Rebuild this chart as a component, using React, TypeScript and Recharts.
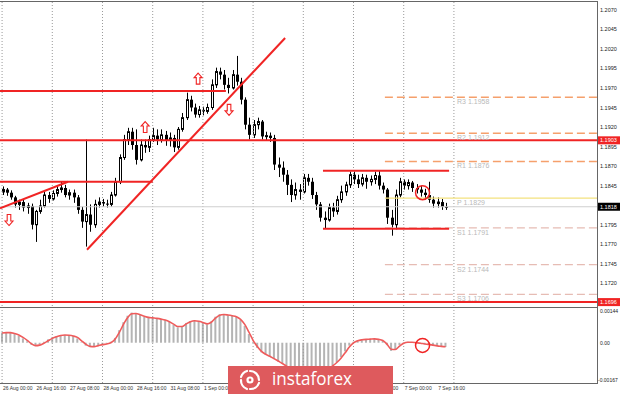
import React from "react";
import { Bar, ComposedChart, Line, ReferenceDot, ReferenceLine, XAxis, YAxis } from "recharts";

// EURUSD H1, shown as 2-hour candles; h = trading hours since 26 Aug 00:00
const opens = [
  1.1837, 1.184, 1.1836, 1.183, 1.1821, 1.1824, 1.1817, 1.1819, 1.1795, 1.1812,
  1.1819, 1.1833, 1.1828, 1.1835, 1.184, 1.1842, 1.1833, 1.1836, 1.183, 1.1814,
  1.1799, 1.1808, 1.1795, 1.1821, 1.1824, 1.1822, 1.1821, 1.1833, 1.185, 1.1881,
  1.1904, 1.1914, 1.1897, 1.1878, 1.1897, 1.1894, 1.1904, 1.1909, 1.1904, 1.191,
  1.1903, 1.1906, 1.1894, 1.1917, 1.1932, 1.1955, 1.1945, 1.1936, 1.1942, 1.194,
  1.1945, 1.1974, 1.1991, 1.1987, 1.1974, 1.197, 1.1987, 1.1978, 1.1955, 1.1923,
  1.191, 1.1923, 1.1927, 1.1908, 1.1909, 1.1906, 1.1872, 1.1868, 1.1859, 1.1846,
  1.1833, 1.184, 1.1837, 1.1855, 1.185, 1.1833, 1.1821, 1.1804, 1.1801, 1.1817,
  1.1812, 1.1827, 1.1837, 1.1846, 1.1859, 1.1853, 1.1847, 1.1855, 1.185, 1.1853,
  1.1858, 1.1845, 1.184, 1.1804, 1.1795, 1.1833, 1.185, 1.1845, 1.1849, 1.1842,
  1.184, 1.1836, 1.1833, 1.1827, 1.1822, 1.1824, 1.1818,
];
const highs = [
  1.1844, 1.1842, 1.1839, 1.1832, 1.1827, 1.1827, 1.1823, 1.1822, 1.1814, 1.1827,
  1.1837, 1.1837, 1.1839, 1.1845, 1.185, 1.1846, 1.184, 1.184, 1.1833, 1.1818,
  1.1904, 1.1821, 1.1827, 1.183, 1.1828, 1.1827, 1.1837, 1.1855, 1.1885, 1.191,
  1.1919, 1.1919, 1.1917, 1.1904, 1.1904, 1.1909, 1.1919, 1.1917, 1.1917, 1.1915,
  1.1913, 1.191, 1.192, 1.1938, 1.1964, 1.196, 1.195, 1.1947, 1.1946, 1.195,
  1.1981, 1.1996, 1.1996, 1.1993, 1.1983, 1.1993, 1.2011, 1.1983, 1.1958, 1.1932,
  1.1929, 1.1932, 1.1929, 1.1914, 1.1913, 1.191, 1.1881, 1.1876, 1.1865, 1.1853,
  1.1849, 1.1847, 1.186, 1.186, 1.1855, 1.1837, 1.1824, 1.1812, 1.1822, 1.1823,
  1.1832, 1.1845, 1.185, 1.1863, 1.1863, 1.1859, 1.186, 1.1859, 1.1858, 1.1863,
  1.1864, 1.1849, 1.1842, 1.1814, 1.184, 1.1855, 1.1853, 1.1853, 1.1851, 1.1847,
  1.1845, 1.1841, 1.185, 1.1831, 1.183, 1.1828, 1.1823,
];
const lows = [
  1.1833, 1.1832, 1.1827, 1.1817, 1.1814, 1.1812, 1.1809, 1.1789, 1.1773, 1.1809,
  1.1817, 1.1823, 1.1826, 1.1831, 1.1836, 1.183, 1.1827, 1.1823, 1.1809, 1.1791,
  1.1767, 1.1786, 1.1791, 1.1817, 1.1818, 1.1817, 1.1818, 1.1831, 1.1847, 1.1878,
  1.1897, 1.1891, 1.1872, 1.1876, 1.1887, 1.1888, 1.1901, 1.1897, 1.19, 1.1896,
  1.1895, 1.1888, 1.1891, 1.1914, 1.1929, 1.194, 1.1932, 1.1932, 1.1935, 1.1937,
  1.1942, 1.197, 1.1981, 1.1968, 1.1963, 1.1968, 1.1973, 1.1949, 1.1917, 1.1904,
  1.1906, 1.1917, 1.1904, 1.1903, 1.1901, 1.1865, 1.1856, 1.185, 1.1833, 1.1824,
  1.1827, 1.1827, 1.1835, 1.1845, 1.1828, 1.1814, 1.1799, 1.179, 1.1799, 1.1805,
  1.1808, 1.1823, 1.1832, 1.1842, 1.1847, 1.1842, 1.1844, 1.1841, 1.1845, 1.1847,
  1.184, 1.1835, 1.1796, 1.1781, 1.1789, 1.183, 1.184, 1.184, 1.1837, 1.1835,
  1.1831, 1.1827, 1.1823, 1.1817, 1.1817, 1.1814, 1.1814,
];
const closes = [
  1.184, 1.1836, 1.183, 1.1821, 1.1824, 1.1817, 1.1819, 1.1795, 1.1812, 1.1819,
  1.1833, 1.1828, 1.1835, 1.184, 1.1842, 1.1833, 1.1836, 1.183, 1.1814, 1.1799,
  1.1808, 1.1795, 1.1821, 1.1824, 1.1822, 1.1821, 1.1833, 1.185, 1.1881, 1.1904,
  1.1914, 1.1897, 1.1878, 1.1897, 1.1894, 1.1904, 1.1909, 1.1904, 1.191, 1.1903,
  1.1906, 1.1894, 1.1917, 1.1932, 1.1955, 1.1945, 1.1936, 1.1942, 1.194, 1.1945,
  1.1974, 1.1991, 1.1987, 1.1974, 1.197, 1.1987, 1.1978, 1.1955, 1.1923, 1.191,
  1.1923, 1.1927, 1.1908, 1.1909, 1.1906, 1.1872, 1.1868, 1.1859, 1.1846, 1.1833,
  1.184, 1.1837, 1.1855, 1.185, 1.1833, 1.1821, 1.1804, 1.1801, 1.1817, 1.1812,
  1.1827, 1.1837, 1.1846, 1.1859, 1.1853, 1.1847, 1.1855, 1.185, 1.1853, 1.1858,
  1.1845, 1.184, 1.1804, 1.1795, 1.1833, 1.185, 1.1845, 1.1849, 1.1842, 1.184,
  1.1836, 1.1833, 1.1827, 1.1822, 1.1824, 1.1818, 1.1818,
];
const macd = [
  0.00042, 0.00044, 0.00042, 0.00036, 0.00028, 0.00018, 0.00006, -0.00008, -0.00014, -0.00008,
  0.00004, 0.00014, 0.00022, 0.00028, 0.00032, 0.00032, 0.0003, 0.00028, 0.00018, 0.00002,
  -0.00012, -0.00018, -0.00016, -0.0001, -0.00006, -0.00004, 0.00004, 0.0002, 0.00052, 0.00085,
  0.00112, 0.00125, 0.00122, 0.00115, 0.00108, 0.00104, 0.00103, 0.001, 0.00098, 0.00094,
  0.00086, 0.00074, 0.00064, 0.00068, 0.00082, 0.0009, 0.00092, 0.00088, 0.00082, 0.00076,
  0.00088, 0.00108, 0.00118, 0.00118, 0.00114, 0.00112, 0.00108, 0.00094, 0.0007, 0.00036,
  0.00004, -0.00022, -0.0004, -0.0005, -0.00058, -0.00068, -0.00078, -0.00088, -0.001, -0.00112,
  -0.00118, -0.00118, -0.00112, -0.0011, -0.00112, -0.00116, -0.00118, -0.00116, -0.00106, -0.00094,
  -0.0008, -0.0006, -0.00036, -0.00012, 0.00004, 0.0001, 0.00014, 0.00015, 0.00016, 0.00017,
  0.00014, 0.00008, -0.0001, -0.00034, -0.00028, -0.0001, 0.00002, 0.00004, 0.00002, 0,
  -0.00002, -0.00006, -0.00008, -0.00012, -0.00014, -0.00016, -0.00018,
];
const signal = [
  0.0004, 0.00042, 0.00042, 0.00038, 0.00032, 0.00022, 0.0001, -0.00004, -0.00012, -0.0001,
  -0.00002, 0.00008, 0.00018, 0.00025, 0.0003, 0.00032, 0.00031, 0.00028, 0.00022, 0.00008,
  -0.00006, -0.00015, -0.00016, -0.00012, -0.00008, -0.00005, 0, 0.00014, 0.00042, 0.00076,
  0.00104, 0.0012, 0.00121, 0.00116, 0.0011, 0.00105, 0.00103, 0.00101, 0.00098, 0.00094,
  0.00087, 0.00077, 0.00067, 0.00067, 0.00078, 0.00087, 0.00091, 0.00089, 0.00084, 0.00078,
  0.00085, 0.00102, 0.00114, 0.00117, 0.00115, 0.00112, 0.00108, 0.00097, 0.00076, 0.00044,
  0.0001, -0.00016, -0.00036, -0.00048, -0.00056, -0.00066, -0.00076, -0.00086, -0.00097, -0.00108,
  -0.00115, -0.00117, -0.00113, -0.0011, -0.00111, -0.00114, -0.00116, -0.00115, -0.00107, -0.00096,
  -0.00082, -0.00064, -0.00042, -0.00018, -0.00001, 0.00008, 0.00012, 0.00014, 0.00015, 0.00016,
  0.00014, 0.00009, -0.00006, -0.00027, -0.00028, -0.00014, -0.00002, 0.00002, 0.00002, 0,
  -0.00002, -0.00005, -0.00007, -0.0001, -0.00013, -0.00015, -0.00017,
];

const hoursPerCandle = 2;
const xDomain = [-1, 284.4];
const dayTicks = [0, 24, 48, 72, 96, 120, 144, 168, 192, 216];
// labels under the watermark are not visible in the screenshot
const timeTicks = [0, 16, 32, 48, 64, 80, 96, 176, 192, 208];
const timeLabels = [
  "26 Aug 00:00", "26 Aug 16:00", "27 Aug 08:00", "28 Aug 00:00", "28 Aug 16:00",
  "31 Aug 08:00", "1 Sep 00:00", "4 Sep 08:00", "7 Sep 00:00", "7 Sep 16:00",
];
const priceDomain = [1.1691, 1.208];
const priceTicks = [1.207, 1.2045, 1.202, 1.1995, 1.197, 1.1945, 1.192, 1.1895, 1.187, 1.1845, 1.1795, 1.177, 1.1745, 1.172];
const lastPrice = 1.1818;
const fullLevels = [1.1903, 1.1696];
// red lines drawn on the chart: [fromH, fromPrice, toH, toPrice]
const drawnLines = [
  [-1, 1.1966, 107, 1.1966],
  [-1, 1.185, 72, 1.185],
  [-1, 1.1816, 31.5, 1.185],
  [40.6, 1.1763, 135.3, 1.2034],
  [153.4, 1.1864, 213.7, 1.1864],
  [153.4, 1.179, 213.7, 1.179],
];
const pivotNames = ["R3", "R2", "R1", "P", "S1", "S2", "S3"];
const pivotValues = [1.1958, 1.1912, 1.1876, 1.1829, 1.1791, 1.1744, 1.1706];
const pivotStart = 183;
const pivotLabelH = 217.5;
const upArrows = [[68.4, 1.192], [93.7, 1.1982]];
const downArrows = [[3.3, 1.1801], [108.5, 1.1942]];
const markH = 201;
const markPrice = 1.1836;
const markMacd = -0.00011;
const macdDomain = [-0.00167, 0.00144];
const macdTicks = [0.00144, 0, -0.00167];

const candles = opens.map((o, i) => ({
  h: i * hoursPerCandle,
  o,
  hi: highs[i],
  lo: lows[i],
  c: closes[i],
  range: [lows[i], highs[i]],
}));
const macdData = macd.map((m, i) => ({ h: i * hoursPerCandle, macd: m, signal: signal[i] }));

const FONT = "'Liberation Sans', Arial, sans-serif";
const RED = "#f02424";

function Candle(props: any) {
  const { x, y, width, height, payload } = props;
  const { o, c, hi, lo } = payload;
  const cx = Math.round(x + width / 2) + 0.5;
  const k = hi === lo ? 0 : height / (hi - lo);
  const yo = y + (hi - o) * k;
  const yc = y + (hi - c) * k;
  const top = Math.min(yo, yc);
  const bh = Math.max(Math.abs(yo - yc), 1);
  const bull = c > o;
  return (
    <g>
      <line x1={cx} x2={cx} y1={y} y2={y + height} stroke="#000" strokeWidth={1} />
      {bull ? (
        <rect x={cx - 1} y={top} width={2} height={bh} fill="#fff" stroke="#000" strokeWidth={1} />
      ) : (
        <rect x={cx - 1.5} y={top} width={3} height={bh} fill="#000" />
      )}
    </g>
  );
}

function Arrow({ cx, cy, up }: { cx: number; cy: number; up: boolean }) {
  const s = up ? 1 : -1;
  const d = `M ${cx} ${cy - 5.5 * s} L ${cx + 4} ${cy - 1 * s} L ${cx + 1.8} ${cy - 1 * s} L ${cx + 1.8} ${cy + 5.5 * s} L ${cx - 1.8} ${cy + 5.5 * s} L ${cx - 1.8} ${cy - 1 * s} L ${cx - 4} ${cy - 1 * s} Z`;
  return <path d={d} fill="#fff" stroke={RED} strokeWidth={1.1} />;
}

function PriceTick(props: any) {
  const { x, y, payload } = props;
  return (
    <text x={x + 3} y={y + 2} fontSize={5.5} fill="#222" fontFamily={FONT}>
      {payload.value.toFixed(4)}
    </text>
  );
}

function MacdTick(props: any) {
  const { x, y, payload } = props;
  const v = payload.value;
  const dy = v > 0 ? 5 : v < 0 ? -1 : 2;
  return (
    <text x={x + (v < 0 ? 1 : 3)} y={y + dy} fontSize={5} fill="#222" fontFamily={FONT}>
      {v === 0 ? "0.00" : v.toFixed(5)}
    </text>
  );
}

function TimeTick(props: any) {
  const { x, y, payload } = props;
  const i = timeTicks.indexOf(payload.value);
  return (
    <text x={x + 1} y={y + 6.5} fontSize={5} fill="#333" fontFamily={FONT}>
      {timeLabels[i]}
    </text>
  );
}

const boxLabel = (text: string, bg: string) => (props: any) => {
  const vb = props.viewBox;
  const x = vb.x + vb.width + 1;
  return (
    <g>
      <rect x={x} y={vb.y - 4} width={22} height={8} fill={bg} />
      <text x={x + 2} y={vb.y + 2} fontSize={5.5} fill="#fff" fontFamily={FONT}>
        {text}
      </text>
    </g>
  );
};

export default function App() {
  return (
    <div style={{ position: "absolute", left: 0, top: 0, width: 620, height: 394, background: "#fff", overflow: "hidden" }}>
      <div style={{ position: "absolute", left: 0, top: 0 }}>
        <ComposedChart width={620} height={308} data={candles} margin={{ top: 2, right: 0, bottom: 2, left: 0 }}>
          <XAxis dataKey="h" type="number" domain={xDomain} hide allowDataOverflow />
          <YAxis
            orientation="right"
            type="number"
            domain={priceDomain}
            ticks={priceTicks}
            width={23}
            axisLine={false}
            tickLine={false}
            tickSize={0}
            tickMargin={0}
            tick={<PriceTick />}
            allowDataOverflow
            interval={0}
          />
          {dayTicks.map((d) => (
            <ReferenceLine key={"g" + d} x={d} stroke="#9a9a9a" strokeDasharray="1 2" />
          ))}
          <ReferenceLine y={lastPrice} stroke="#cfcfcf" label={boxLabel(lastPrice.toFixed(4), "#000")} />
          {pivotValues.map((v, i) => (
            <ReferenceLine
              key={"p" + i}
              segment={[{ x: pivotStart, y: v }, { x: xDomain[1], y: v }]}
              stroke={i < 3 ? "#f5a06c" : i === 3 ? "#f3e27e" : "#e6bcb4"}
              strokeWidth={i < 3 ? 1.5 : 1.2}
              strokeDasharray={i === 3 ? undefined : "8 4"}
              ifOverflow="visible"
            />
          ))}
          {pivotValues.map((v, i) => (
            <ReferenceDot
              key={"pl" + i}
              x={pivotLabelH}
              y={v}
              ifOverflow="visible"
              shape={(p: any) => (
                <text x={p.cx} y={p.cy + 7} fontSize={7} fill="#b9b9b9" fontFamily={FONT}>
                  {pivotNames[i] + " " + v.toFixed(4)}
                </text>
              )}
            />
          ))}
          {fullLevels.map((v) => (
            <ReferenceLine key={"f" + v} y={v} stroke={RED} strokeWidth={2} label={boxLabel(v.toFixed(4), RED)} />
          ))}
          {drawnLines.map((s, i) => (
            <ReferenceLine
              key={"s" + i}
              segment={[{ x: s[0], y: s[1] }, { x: s[2], y: s[3] }]}
              stroke={RED}
              strokeWidth={2}
              ifOverflow="visible"
            />
          ))}
          <Bar dataKey="range" barSize={3} isAnimationActive={false} shape={(p: any) => <Candle {...p} />} />
          {upArrows.map((a, i) => (
            <ReferenceDot key={"u" + i} x={a[0]} y={a[1]} shape={(p: any) => <Arrow cx={p.cx} cy={p.cy} up />} />
          ))}
          {downArrows.map((a, i) => (
            <ReferenceDot key={"d" + i} x={a[0]} y={a[1]} shape={(p: any) => <Arrow cx={p.cx} cy={p.cy} up={false} />} />
          ))}
          <ReferenceDot x={markH} y={markPrice} r={7} fill="none" stroke={RED} strokeWidth={1.5} />
        </ComposedChart>
      </div>
      <div style={{ position: "absolute", left: 0, top: 306 }}>
        <ComposedChart width={620} height={88} data={macdData} margin={{ top: 2, right: 0, bottom: 0, left: 0 }}>
          <XAxis
            dataKey="h"
            type="number"
            domain={xDomain}
            ticks={timeTicks}
            interval={0}
            height={11}
            axisLine={false}
            tickLine={false}
            tickSize={0}
            tickMargin={0}
            tick={<TimeTick />}
            allowDataOverflow
          />
          <YAxis
            orientation="right"
            type="number"
            domain={macdDomain}
            ticks={macdTicks}
            width={23}
            axisLine={false}
            tickLine={false}
            tickSize={0}
            tickMargin={0}
            tick={<MacdTick />}
            allowDataOverflow
            interval={0}
          />
          {dayTicks.map((d) => (
            <ReferenceLine key={"g" + d} x={d} stroke="#9a9a9a" strokeDasharray="1 2" />
          ))}
          <Bar dataKey="macd" barSize={2} fill="#b4b4b4" isAnimationActive={false} />
          <Line
            dataKey="signal"
            type="monotone"
            stroke="#ef5b5b"
            strokeWidth={1.6}
            dot={false}
            isAnimationActive={false}
          />
          <ReferenceDot x={markH} y={markMacd} r={7} fill="none" stroke={RED} strokeWidth={1.5} />
        </ComposedChart>
      </div>
      <div style={{ position: "absolute", left: -1, top: 1, width: 599, height: 307, border: "1px solid #666", boxSizing: "border-box", pointerEvents: "none" }} />
      <div style={{ position: "absolute", left: -1, top: 307, width: 599, height: 77, border: "1px solid #666", boxSizing: "border-box", pointerEvents: "none" }} />
      <svg style={{ position: "absolute", left: 228, top: 366 }} width={165} height={28}>
        <rect x={0} y={0} width={165} height={28} fill="#de5a5d" />
        <g fill="none" stroke="#fff" strokeWidth={2.2} strokeLinecap="round">
          <path d="M 22 5 A 9 9 0 0 1 31 14" />
          <path d="M 31 17 A 9 9 0 0 1 22 23" />
          <path d="M 19 23 A 9 9 0 0 1 13 14" />
          <path d="M 13 11 A 9 9 0 0 1 19 5" />
          <circle cx={22} cy={14} r={2.5} />
        </g>
        <text x={44} y={19} fontSize={18} fill="#fff" fontFamily="'Open Sans', sans-serif" textLength={80} lengthAdjust="spacingAndGlyphs">
          instaforex
        </text>
      </svg>
    </div>
  );
}
